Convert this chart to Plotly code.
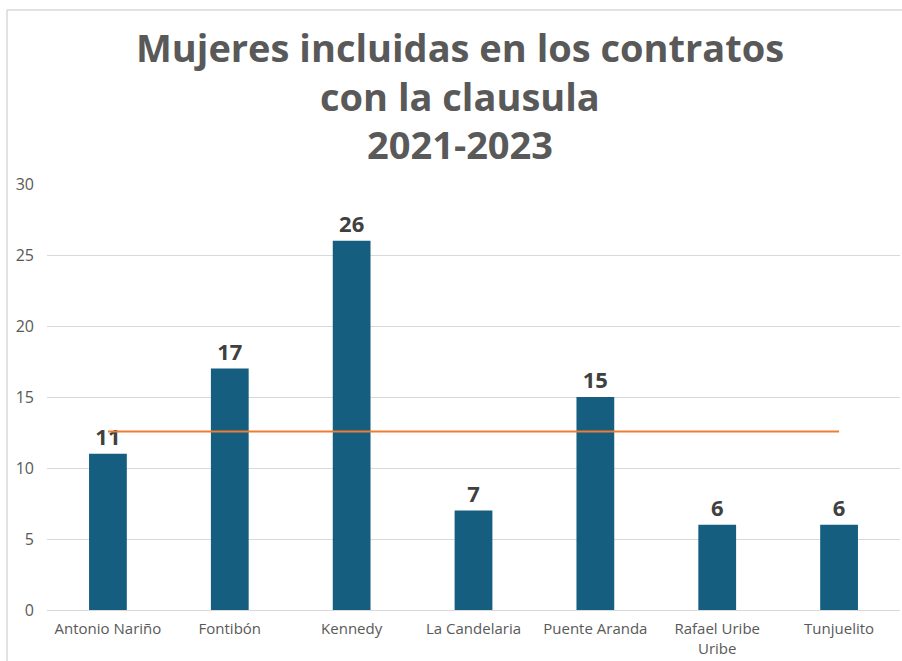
import plotly.graph_objects as go

categorias = ["Antonio Nariño", "Fontibón", "Kennedy", "La Candelaria",
              "Puente Aranda", "Rafael Uribe<br>Uribe", "Tunjuelito"]
mujeres = [11, 17, 26, 7, 15, 6, 6]
promedio = [12.57, 12.57, 12.57, 12.57, 12.57, 12.57, 12.57]
y_ticks = [0, 5, 10, 15, 20, 25, 30]
titulo = ["Mujeres incluidas en los contratos", "con la clausula", "2021-2023"]

W, H = 902, 661
L, R, T, B = 47, 2, 184, 51
pw, ph = W - L - R, H - T - B

def px_x(x):
    return (x - L) / pw

def px_y(y):
    return 1 - (y - T) / ph

fig = go.Figure()
fig.add_trace(go.Bar(
    x=categorias, y=mujeres,
    marker=dict(color="#165E80", line=dict(width=0)),
    text=[str(v) for v in mujeres], textposition="outside",
    textfont=dict(family="Open Sans", size=22, color="#404040", weight="bold"),
    cliponaxis=False, showlegend=False,
))
fig.add_trace(go.Scatter(
    x=categorias, y=promedio, mode="lines",
    line=dict(color="#ED7D31", width=2), showlegend=False,
))

title_y = [47, 96, 144]
annotations = [dict(
    text=t, xref="paper", yref="paper",
    x=px_x(460), y=px_y(yy),
    xanchor="center", yanchor="middle", showarrow=False,
    font=dict(family="Open Sans", size=38, color="#595959", weight="bold"),
) for t, yy in zip(titulo, title_y)]

frame = dict(color="#D9D9D9", width=1.5)
fig.update_layout(
    width=W, height=H,
    margin=dict(l=L, r=R, t=T, b=B),
    paper_bgcolor="white", plot_bgcolor="white",
    bargap=0.69,
    annotations=annotations,
    shapes=[
        dict(type="line", xref="paper", yref="paper",
             x0=px_x(7), x1=px_x(W + 10), y0=px_y(10), y1=px_y(10),
             line=frame, layer="below"),
        dict(type="line", xref="paper", yref="paper",
             x0=px_x(7), x1=px_x(7), y0=px_y(10), y1=px_y(H + 10),
             line=frame, layer="below"),
    ],
    xaxis=dict(
        showgrid=False, showline=False, ticks="",
        tickfont=dict(family="Open Sans", size=15, color="#595959"),
        ticklabelstandoff=8,
    ),
    yaxis=dict(
        range=[0, 30], tickvals=y_ticks, showgrid=True,
        gridcolor="#D9D9D9", gridwidth=1, zeroline=True,
        zerolinecolor="#D9D9D9", zerolinewidth=1,
        tickfont=dict(family="Open Sans", size=16, color="#595959"),
        ticklabelstandoff=12,
    ),
)

fig.write_html("out.html", config={"displayModeBar": False},
               post_script="document.body.style.margin='0';")
